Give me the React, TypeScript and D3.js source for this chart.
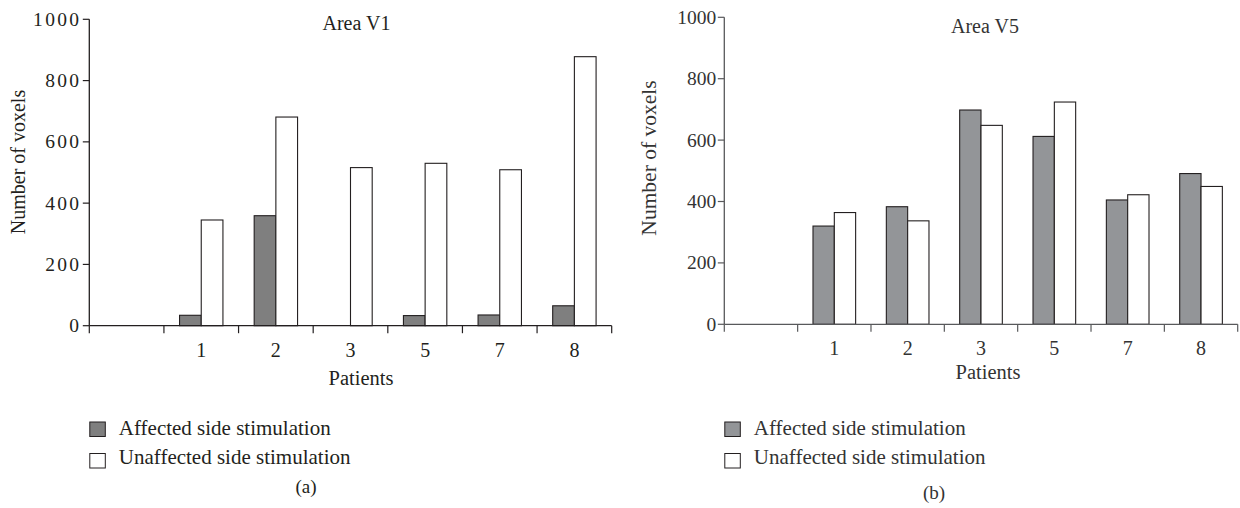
import React from "react";
import * as d3 from "d3";

const patients = ["1", "2", "3", "5", "7", "8"];
const slots = ["", ...patients];
const seriesKeys = ["affected", "unaffected"];
const legendLabels = ["Affected side stimulation", "Unaffected side stimulation"];
const yTicks = [0, 200, 400, 600, 800, 1000];

const v1Affected = [34, 359, 0, 33, 35, 65];
const v1Unaffected = [345, 681, 516, 530, 509, 878];
const v5Affected = [320, 383, 698, 612, 405, 491];
const v5Unaffected = [364, 337, 648, 724, 422, 449];

const FONT = "'Liberation Serif', 'Times New Roman', serif";

type PanelProps = {
  title: string;
  letter: string;
  affected: number[];
  unaffected: number[];
  x0: number;
  x1: number;
  yTop: number;
  yBottom: number;
  affectedFill: string;
  axisColor: string;
  textColor: string;
  titleX: number;
  titleY: number;
  patientsX: number;
  patientsY: number;
  ylabX: number;
  ylabY: number;
  ylabSize: number;
  yTickSpacing: number;
  letterX: number;
  letterY: number;
};

function Panel(p: PanelProps) {
  const x = d3.scaleBand<string>().domain(slots).range([p.x0, p.x1]).padding(0);
  const bw = x.bandwidth();
  const sub = d3
    .scaleBand<string>()
    .domain(seriesKeys)
    .range([0, bw])
    .paddingInner(0)
    .paddingOuter(0.72);
  const y = d3.scaleLinear().domain([0, 1000]).range([p.yBottom, p.yTop]);
  const data = [p.affected, p.unaffected];
  const fills = [p.affectedFill, "#ffffff"];
  const boundaries = slots.map((s) => x(s) as number).concat([p.x1]);

  return (
    <g fontFamily={FONT}>
      {/* bars */}
      {patients.map((cat, i) =>
        seriesKeys.map((k, si) => {
          const v = data[si][i];
          if (v <= 0) return null;
          const bx = (x(cat) as number) + (sub(k) as number);
          return (
            <rect
              key={cat + k}
              x={bx}
              y={y(v)}
              width={sub.bandwidth()}
              height={y(0) - y(v)}
              fill={fills[si]}
              stroke="#231f20"
              strokeWidth={1.1}
            />
          );
        })
      )}
      {/* axes */}
      <line x1={p.x0} x2={p.x0} y1={y(1000)} y2={y(0)} stroke={p.axisColor} strokeWidth={1.3} />
      <line x1={p.x0} x2={p.x1} y1={y(0)} y2={y(0)} stroke={p.axisColor} strokeWidth={1.3} />
      {yTicks.map((t) => (
        <g key={t}>
          <line x1={p.x0 - 6.5} x2={p.x0} y1={y(t)} y2={y(t)} stroke={p.axisColor} strokeWidth={1.2} />
          <text
            x={p.x0 - 8}
            y={y(t) + 6.5}
            textAnchor="end"
            fontSize={19.5}
            letterSpacing={p.yTickSpacing}
            fill={p.textColor}
          >
            {t}
          </text>
        </g>
      ))}
      {boundaries.map((bx, i) => (
        <line key={i} x1={bx} x2={bx} y1={y(0)} y2={y(0) + 7.5} stroke={p.axisColor} strokeWidth={1.2} />
      ))}
      {patients.map((cat) => (
        <text
          key={cat}
          x={(x(cat) as number) + bw / 2}
          y={y(0) + 31}
          textAnchor="middle"
          fontSize={20}
          fill={p.textColor}
        >
          {cat}
        </text>
      ))}
      <text x={p.titleX} y={p.titleY} textAnchor="middle" fontSize={20} fill={p.textColor}>
        {p.title}
      </text>
      <text x={p.patientsX} y={p.patientsY} textAnchor="middle" fontSize={20.5} fill={p.textColor}>
        Patients
      </text>
      <text
        transform={`translate(${p.ylabX},${p.ylabY}) rotate(-90)`}
        textAnchor="middle"
        fontSize={p.ylabSize}
        fill={p.textColor}
      >
        Number of voxels
      </text>
      {/* legend */}
      {legendLabels.map((lab, i) => (
        <g key={lab}>
          <rect
            x={p.x0 + 0.5}
            y={422 + i * 31.5}
            width={15.5}
            height={14.5}
            fill={fills[i]}
            stroke="#231f20"
            strokeWidth={1}
          />
          <text x={p.x0 + 29.5} y={435 + i * 28.5} fontSize={21} fill={p.textColor}>
            {lab}
          </text>
        </g>
      ))}
      <text x={p.letterX} y={p.letterY} textAnchor="middle" fontSize={19} fill={p.textColor}>
        {p.letter}
      </text>
    </g>
  );
}

export default function App() {
  return (
    <svg
      width={1240}
      height={508}
      style={{ position: "absolute", left: 0, top: 0, background: "#fff" }}
    >
      <rect x={0} y={0} width={1240} height={508} fill="#fff" />
      <Panel
        title="Area V1"
        letter="(a)"
        affected={v1Affected}
        unaffected={v1Unaffected}
        x0={89.3}
        x1={611.7}
        yTop={19.3}
        yBottom={325.7}
        affectedFill="#7f7f7f"
        axisColor="#231f20"
        textColor="#231f20"
        titleX={356.5}
        titleY={30}
        patientsX={361}
        patientsY={385}
        ylabX={25}
        ylabY={162}
        ylabSize={20}
        yTickSpacing={2.3}
        letterX={306}
        letterY={493}
      />
      <Panel
        title="Area V5"
        letter="(b)"
        affected={v5Affected}
        unaffected={v5Unaffected}
        x0={724.3}
        x1={1237.7}
        yTop={17.3}
        yBottom={324.3}
        affectedFill="#939598"
        axisColor="#58595b"
        textColor="#333333"
        titleX={985}
        titleY={33}
        patientsX={988}
        patientsY={379}
        ylabX={656}
        ylabY={158}
        ylabSize={21.5}
        yTickSpacing={0}
        letterX={934}
        letterY={499}
      />
    </svg>
  );
}
